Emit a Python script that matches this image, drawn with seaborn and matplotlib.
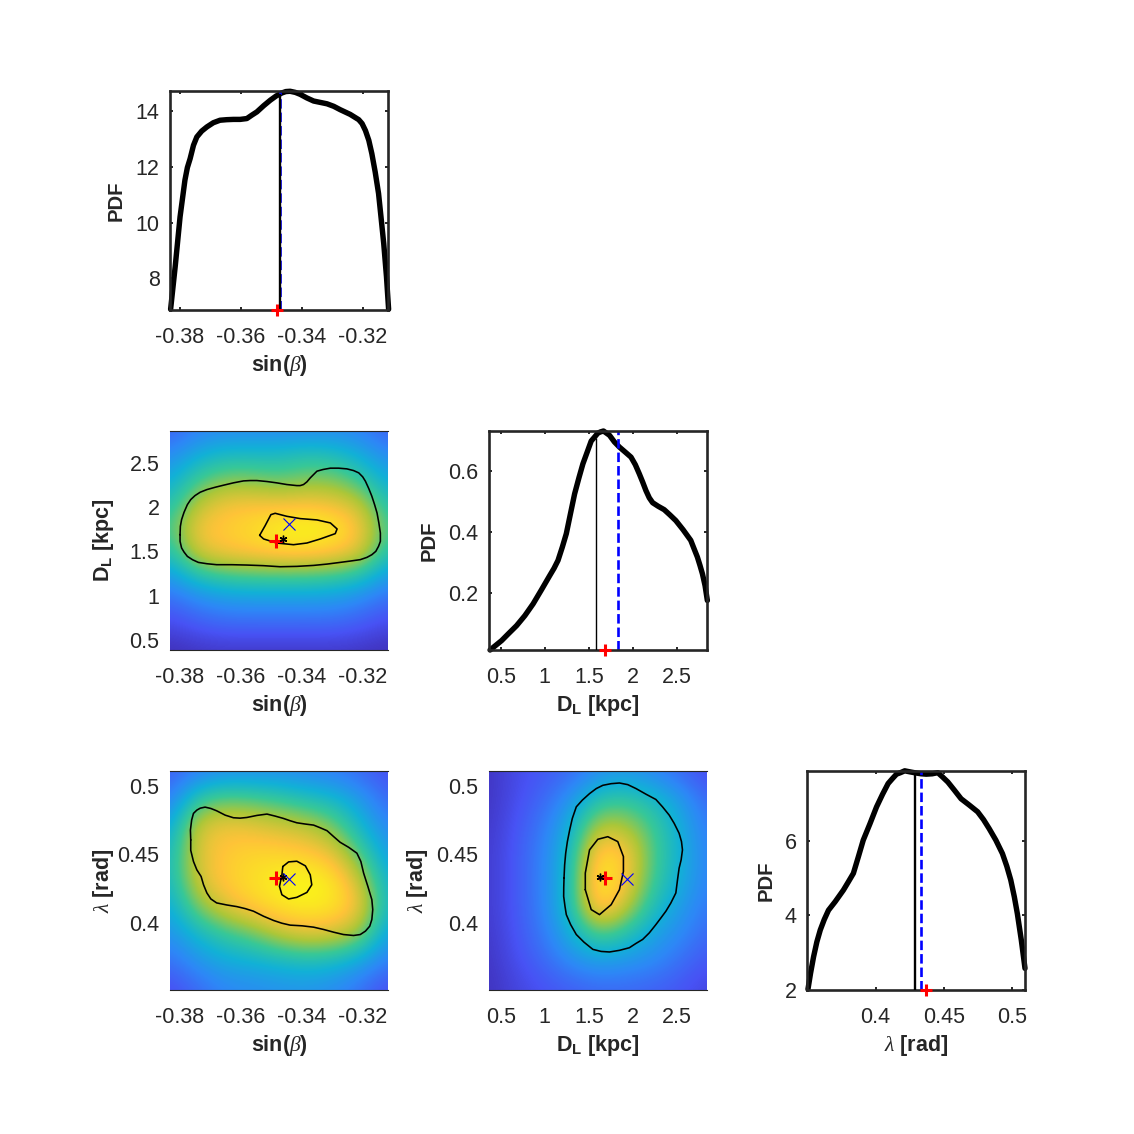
# Corner plot of the posterior: sin(beta), D_L and lambda
import numpy as np
import matplotlib
matplotlib.use("Agg")
import matplotlib.pyplot as plt
from matplotlib.colors import LinearSegmentedColormap
import seaborn as sns

# ---- axis limits and ticks
SIN_LIM = (-0.3833, -0.3118)
DL_XLIM = (0.368, 2.838)
DL_YLIM = (0.385, 2.86)
LAM_YLIM = (0.3505, 0.5112)
LAM_XLIM = (0.3499, 0.5092)
SIN_TICKS = [-0.38, -0.36, -0.34, -0.32]
SIN_LABELS = ["-0.38", "-0.36", "-0.34", "-0.32"]
DL_TICKS = [0.5, 1, 1.5, 2, 2.5]
DL_LABELS = ["0.5", "1", "1.5", "2", "2.5"]
LAM_TICKS = [0.4, 0.45, 0.5]
LAM_LABELS = ["0.4", "0.45", "0.5"]

# ---- 1D marginals
SIN_X = [-.3831, -.3816, -.38, -.3784, -.3776, -.3767, -.3756, -.3745, -.3729, -.3712, -.3691, -.3669, -.3647, -.3625, -.3603,
         -.3581, -.3565, -.3548, -.3526, -.3504, -.3485, -.3466, -.3453, -.3439, -.3422, -.3406, -.3384, -.3362, -.334, -.3318,
         -.3296, -.3275, -.3242, -.3214, -.3203, -.3192, -.3181, -.3171, -.316, -.3149, -.3141, -.3132, -.3123, -.3116]
SIN_PDF = [6.89, 8.42, 10.21, 11.53, 11.98, 12.30, 12.78, 13.08, 13.29, 13.44, 13.59, 13.68, 13.70, 13.71, 13.71,
           13.74, 13.86, 13.98, 14.20, 14.40, 14.55, 14.66, 14.71, 14.72, 14.68, 14.61, 14.48, 14.37, 14.32, 14.27,
           14.18, 14.06, 13.89, 13.70, 13.56, 13.31, 12.96, 12.48, 11.82, 11.05, 10.21, 9.25, 8.06, 6.89]
DL_X = [.380, .511, .586, .680, .774, .868, .962, 1.056, 1.105, 1.150, 1.199, 1.244, 1.289, 1.338, 1.387, 1.432, 1.481, 1.526, 1.564,
        1.601, 1.631, 1.665, 1.699, 1.733, 1.789, 1.846, 1.910, 1.977, 2.026, 2.071, 2.109, 2.146, 2.184, 2.222, 2.286, 2.353, 2.417,
        2.485, 2.567, 2.654, 2.692, 2.729, 2.759, 2.786, 2.816, 2.842]
DL_PDF = [.012, .043, .065, .092, .125, .164, .210, .257, .281, .307, .351, .395, .458, .526, .579, .625, .664, .700, .713,
          .726, .730, .733, .726, .719, .697, .680, .664, .647, .622, .592, .565, .537, .513, .497, .485, .474, .457,
          .438, .408, .373, .345, .318, .290, .263, .224, .175]
LAM_X = [.3506, .3525, .3547, .3571, .3596, .3625, .3656, .3705, .3765, .3801, .3838, .3874, .3910, .3959, .4007, .4051, .4092, .4123,
         .4153, .4182, .4213, .4254, .4298, .4334, .4370, .4414, .4455, .4491, .4528, .4576, .4625, .4685, .4746, .4789, .4830, .4879,
         .4927, .4959, .4988, .5014, .5036, .5065, .5092]
LAM_PDF = [2.02, 2.45, 2.89, 3.29, 3.61, 3.89, 4.14, 4.37, 4.68, 4.90, 5.13, 5.57, 6.02, 6.46, 6.91, 7.25, 7.54, 7.67,
           7.79, 7.83, 7.88, 7.85, 7.82, 7.80, 7.79, 7.80, 7.83, 7.71, 7.58, 7.36, 7.13, 6.96, 6.78, 6.57, 6.33, 6.02,
           5.66, 5.32, 4.95, 4.50, 4.05, 3.34, 2.58]

# ---- reference values: median line, dashed line, true value
SIN_MED, SIN_DASH, SIN_TRUE = -0.3472, -0.3471, -0.3483
DL_MED, DL_DASH, DL_TRUE = 1.579, 1.827, 1.677
LAM_MED, LAM_DASH, LAM_TRUE = 0.4291, 0.4334, 0.4366

# ---- 2D grids, top row first (0 = low, 1 = peak)
SIN_GRID = [-.3833, -.3744, -.3654, -.3565, -.3476, -.3386, -.3297, -.3207, -.3118]
DLX_GRID = [.37, .68, .98, 1.29, 1.6, 1.91, 2.22, 2.53, 2.84]
DLY_GRID = [2.86, 2.585, 2.31, 2.035, 1.76, 1.485, 1.21, .935, .66, .385]
LAM_GRID = [.511, .491, .471, .451, .431, .411, .391, .371, .351]

SIN_DL = [[.18, .27, .30, .30, .30, .30, .30, .27, .18],
          [.30, .42, .48, .48, .48, .52, .50, .42, .30],
          [.40, .58, .66, .66, .62, .66, .66, .56, .40],
          [.50, .74, .84, .85, .84, .85, .83, .76, .50],
          [.58, .85, .88, .92, .98, 1.0, .97, .85, .58],
          [.50, .78, .85, .87, .90, .90, .87, .80, .50],
          [.34, .50, .56, .58, .58, .58, .56, .50, .34],
          [.20, .28, .33, .34, .34, .34, .33, .28, .20],
          [.11, .16, .19, .19, .19, .19, .19, .16, .11],
          [.03, .05, .06, .06, .06, .06, .06, .05, .03]]
SIN_LAM = [[.17, .25, .30, .30, .30, .28, .25, .20, .13],
           [.25, .55, .62, .60, .56, .50, .46, .35, .20],
           [.38, .78, .84, .82, .78, .75, .65, .45, .28],
           [.46, .80, .87, .90, .90, .88, .82, .60, .35],
           [.46, .78, .88, .93, .98, 1.0, .95, .76, .42],
           [.40, .65, .80, .88, .94, .97, .95, .84, .45],
           [.32, .45, .55, .62, .74, .80, .78, .68, .36],
           [.22, .33, .40, .42, .45, .48, .46, .38, .25],
           [.12, .20, .28, .30, .32, .33, .30, .22, .12]]
DL_LAM = [[.05, .12, .16, .20, .30, .33, .28, .20, .12],
          [.05, .13, .20, .33, .52, .55, .48, .36, .20],
          [.06, .15, .25, .43, .74, .72, .58, .42, .25],
          [.07, .16, .28, .48, .93, .88, .60, .44, .27],
          [.07, .16, .28, .50, 1.0, .87, .58, .42, .27],
          [.07, .16, .28, .50, .95, .76, .50, .36, .24],
          [.06, .15, .25, .42, .60, .52, .38, .30, .20],
          [.05, .13, .20, .30, .36, .33, .30, .22, .15],
          [.04, .10, .14, .17, .20, .20, .18, .15, .10]]

# ---- credible contours
SD_OUT_X = [-.38, -.3799, -.3795, -.3787, -.3776, -.3765, -.3751, -.3734, -.3712, -.3685, -.3658, -.3625, -.3592, -.357, -.3548, -.3515,
            -.3483, -.345, -.3417, -.3406, -.3395, -.3384, -.3373, -.3362, -.3351, -.3331, -.3307, -.328, -.3253, -.3231, -.3214, -.3201,
            -.3192, -.3181, -.3171, -.3162, -.3154, -.3148, -.3143, -.3143, -.3149, -.3158, -.3171, -.3187, -.3209, -.3242, -.3275, -.3318,
            -.3362, -.3417, -.3472, -.3526, -.3581, -.363, -.368, -.3712, -.374, -.3759, -.3776, -.3787, -.3795, -.38, -.38]
SD_OUT_Y = [1.689, 1.783, 1.858, 1.941, 2.028, 2.085, 2.130, 2.168, 2.198, 2.224, 2.247, 2.274, 2.296, 2.300, 2.300, 2.289,
            2.274, 2.255, 2.243, 2.243, 2.255, 2.285, 2.330, 2.368, 2.406, 2.425, 2.440, 2.440, 2.432, 2.413, 2.387, 2.342,
            2.292, 2.209, 2.123, 2.028, 1.934, 1.821, 1.707, 1.613, 1.557, 1.500, 1.462, 1.432, 1.406, 1.390, 1.375, 1.356,
            1.341, 1.330, 1.326, 1.338, 1.345, 1.349, 1.349, 1.360, 1.375, 1.405, 1.443, 1.492, 1.538, 1.613, 1.689]
SD_IN_X = [-.3539, -.3521, -.3502, -.3488, -.345, -.3406, -.3351, -.3307, -.3285, -.3291, -.334, -.3384, -.3428, -.3483, -.3526, -.3539]
SD_IN_Y = [1.681, 1.790, 1.915, 1.930, 1.896, 1.870, 1.855, 1.821, 1.753, 1.700, 1.640, 1.594, 1.575, 1.594, 1.640, 1.681]

SL_OUT_X = [-.3765, -.3766, -.3762, -.3756, -.3745, -.3734, -.3718, -.3699, -.368, -.3652, -.3625, -.3603, -.3581, -.3548, -.3515, -.3488,
            -.3461, -.3439, -.3417, -.339, -.3362, -.3341, -.3318, -.3296, -.3275, -.3247, -.322, -.3207, -.3198, -.3184, -.3171, -.3168,
            -.3171, -.3178, -.3192, -.3209, -.3231, -.3264, -.3296, -.3329, -.3362, -.34, -.3439, -.3466, -.3493, -.3526, -.3559, -.3586,
            -.3614, -.3647, -.368, -.3699, -.3712, -.3723, -.3731, -.3745, -.3756, -.3765, -.3765]
SL_OUT_Y = [.4606, .4679, .4752, .4801, .4825, .4839, .4847, .4837, .4820, .4788, .4769, .4766, .4771, .4786, .4796, .4781,
            .4764, .4747, .4732, .4723, .4715, .4696, .4674, .4630, .4589, .4552, .4509, .4448, .4363, .4265, .4168, .4095,
            .4022, .3973, .3937, .3912, .3905, .3912, .3929, .3949, .3966, .3976, .3981, .3995, .4015, .4046, .4083, .4102,
            .4117, .4129, .4144, .4173, .4217, .4277, .4338, .4387, .4448, .4530, .4606]
SL_IN_X = [-.3463, -.3444, -.3417, -.3389, -.3373, -.3368, -.3384, -.3417, -.3444, -.3466, -.3474, -.3466, -.3463]
SL_IN_Y = [.4411, .4445, .4450, .4416, .4350, .4277, .4221, .4185, .4173, .4204, .4265, .4350, .4411]

DL_OUT_X = [1.218, 1.225, 1.237, 1.256, 1.282, 1.312, 1.357, 1.425, 1.507, 1.583, 1.658, 1.752, 1.846, 1.940, 2.034, 2.146, 2.259, 2.334,
            2.410, 2.466, 2.522, 2.549, 2.560, 2.545, 2.522, 2.504, 2.485, 2.428, 2.372, 2.316, 2.259, 2.184, 2.109, 2.034, 1.958, 1.846,
            1.733, 1.639, 1.545, 1.444, 1.357, 1.293, 1.244, 1.229, 1.214, 1.215, 1.218]
DL_OUT_Y = [.4326, .4423, .4509, .4594, .4679, .4764, .4849, .4898, .4946, .4983, .5007, .5019, .5024, .5012, .4983, .4942, .4903, .4849,
            .4788, .4728, .4655, .4594, .4533, .4460, .4399, .4314, .4217, .4143, .4083, .4034, .3985, .3924, .3876, .3847, .3815, .3796,
            .3784, .3788, .3803, .3856, .3912, .3985, .4058, .4119, .4192, .4260, .4326]
DL_IN_X = [1.459, 1.459, 1.507, 1.601, 1.714, 1.827, 1.891, 1.891, 1.846, 1.752, 1.620, 1.526, 1.459]
DL_IN_Y = [.4241, .4363, .4533, .4611, .4630, .4594, .4484, .4375, .4241, .4131, .4058, .4095, .4241]

# ---- point markers: true value (+), peak (*), mean (x)
SD_POINTS = [(-.3484, 1.613), (-.3462, 1.643), (-.3442, 1.813)]
SL_POINTS = [(-.3484, .4324), (-.3463, .4333), (-.3443, .4321)]
DL_POINTS = [(1.684, .4326), (1.631, .4333), (1.932, .4323)]

SIN_NAME = r"sin($\beta$)"
DL_NAME = r"D$_{\mathbf{L}}$ [kpc]"
LAM_NAME = r"$\lambda$ [rad]"

sns.set_theme(style="white")
plt.rcParams.update({
    "font.family": ["Liberation Sans", "DejaVu Sans"],
    "mathtext.fontset": "custom",
    "mathtext.rm": "Liberation Sans",
    "mathtext.bf": "Liberation Sans:bold",
    "mathtext.it": "Liberation Serif:italic",
    "text.color": "#262626",
    "axes.labelcolor": "#262626",
    "xtick.color": "#262626",
    "ytick.color": "#262626",
})

PARULA = LinearSegmentedColormap.from_list("parula", [
    (0.2422, 0.1504, 0.6603), (0.2810, 0.3228, 0.9579), (0.1786, 0.5289, 0.9682),
    (0.0689, 0.6948, 0.8394), (0.2161, 0.7843, 0.5923), (0.6720, 0.7793, 0.2227),
    (0.9970, 0.7659, 0.2199), (0.9769, 0.9839, 0.0805)])

FIG_PX = 1134
COLS = [170, 489, 807]
ROWS = [310, 650, 990]
AX_W, AX_H = 218, 219
TICK_SIZE = 15.5
LABEL_SIZE = 15.5
DARK = "#262626"

fig = plt.figure(figsize=(11.34, 11.34), dpi=100)


def new_axes(col, row):
    return fig.add_axes([COLS[col] / FIG_PX, 1 - ROWS[row] / FIG_PX, AX_W / FIG_PX, AX_H / FIG_PX])


def dress(ax, col, xticks, xlabels, yticks, ylabels, xname, yname, ylabel_px, inner_ticks):
    ax.set_xticks(xticks, xlabels)
    ax.set_yticks(yticks, ylabels)
    ax.tick_params(axis="x", pad=12)
    ax.tick_params(axis="y", pad=7.5)
    ax.tick_params(axis="both", labelsize=TICK_SIZE, direction="in", top=inner_ticks, right=inner_ticks,
                   left=inner_ticks, bottom=inner_ticks, length=2.2, width=1.4)
    ax.set_xlabel(xname, fontsize=LABEL_SIZE, fontweight="bold", labelpad=4)
    ax.set_ylabel(yname, fontsize=14.6 if yname == "PDF" else LABEL_SIZE, fontweight="bold", va="center")
    ax.yaxis.set_label_coords((ylabel_px - COLS[col]) / AX_W, 0.5)


def marginal(col, row, xs, pdf, xlim, ylim, med, med_top, med_lw, dash, true, ticks, labels, yticks, ylabels, name, ylabel_px):
    ax = new_axes(col, row)
    sns.lineplot(x=xs, y=pdf, sort=False, estimator=None, color="black", lw=3.9, clip_on=False,
                 solid_joinstyle="round", ax=ax, legend=False)
    ax.vlines(med, ylim[0], med_top, color="black", lw=med_lw, zorder=3)
    ax.plot([dash, dash], ylim, color="#0000ff", lw=1.9, ls=(0, (3.6, 1.5)), zorder=2.5)
    ax.plot([true], [ylim[0]], marker="+", ms=8, mew=2.2, color="#ff0000", clip_on=False, zorder=6)
    ax.set_xlim(xlim)
    ax.set_ylim(ylim)
    for sp in ax.spines.values():
        sp.set_linewidth(1.9)
        sp.set_color(DARK)
    dress(ax, col, ticks, labels, yticks, ylabels, name, "PDF", ylabel_px, True)
    return ax


def joint(col, row, grid, gx, gy, xlim, ylim, outer, inner, points, ticks, labels, yticks, ylabels, xname, yname, ylabel_px):
    ax = new_axes(col, row)
    dx = (gx[-1] - gx[0]) / (len(gx) - 1)
    dy = (gy[0] - gy[-1]) / (len(gy) - 1)
    ax.imshow(np.array(grid), cmap=PARULA, vmin=0, vmax=1, aspect="auto", interpolation="bicubic", origin="upper",
              extent=(gx[0] - dx / 2, gx[-1] + dx / 2, gy[-1] - dy / 2, gy[0] + dy / 2))
    for cx, cy in (outer, inner):
        sns.lineplot(x=cx, y=cy, sort=False, estimator=None, color="black", lw=1.15,
                     solid_joinstyle="round", ax=ax, legend=False)
    (tx, ty), (px, py), (mx, my) = points
    ax.plot([tx], [ty], marker="+", ms=9.5, mew=2.2, color="#ff0000", zorder=5)
    ax.plot([px], [py], marker=(6, 2, 0), ms=5.5, mew=1.0, color="black", zorder=6)
    ax.plot([mx], [my], marker="x", ms=8, mew=0.8, color="#0000ff", zorder=6)
    ax.set_xlim(xlim)
    ax.set_ylim(ylim)
    ax.spines[["left", "right"]].set_visible(False)
    ax.spines[["top", "bottom"]].set_linewidth(0.8)
    ax.spines[["top", "bottom"]].set_color(DARK)
    dress(ax, col, ticks, labels, yticks, ylabels, xname, yname, ylabel_px, False)
    ax.tick_params(axis="both", length=0)
    return ax


marginal(0, 0, SIN_X, SIN_PDF, SIN_LIM, (6.864, 14.73), SIN_MED, 14.62, 1.7, SIN_DASH, SIN_TRUE,
         SIN_TICKS, SIN_LABELS, [8, 10, 12, 14], ["8", "10", "12", "14"], SIN_NAME, 116)
marginal(1, 1, DL_X, DL_PDF, DL_XLIM, (0.012, 0.733), DL_MED, 0.71, 1.0, DL_DASH, DL_TRUE,
         DL_TICKS, DL_LABELS, [0.2, 0.4, 0.6], ["0.2", "0.4", "0.6"], DL_NAME, 429)
marginal(2, 2, LAM_X, LAM_PDF, LAM_XLIM, (2, 7.875), LAM_MED, 7.82, 1.7, LAM_DASH, LAM_TRUE,
         LAM_TICKS, LAM_LABELS, [2, 4, 6], ["2", "4", "6"], LAM_NAME, 766)

joint(0, 1, SIN_DL, SIN_GRID, DLY_GRID, SIN_LIM, DL_YLIM, (SD_OUT_X, SD_OUT_Y), (SD_IN_X, SD_IN_Y), SD_POINTS,
      SIN_TICKS, SIN_LABELS, DL_TICKS, DL_LABELS, SIN_NAME, DL_NAME, 103)
joint(0, 2, SIN_LAM, SIN_GRID, LAM_GRID, SIN_LIM, LAM_YLIM, (SL_OUT_X, SL_OUT_Y), (SL_IN_X, SL_IN_Y), SL_POINTS,
      SIN_TICKS, SIN_LABELS, LAM_TICKS, LAM_LABELS, SIN_NAME, LAM_NAME, 103)
joint(1, 2, DL_LAM, DLX_GRID, LAM_GRID, DL_XLIM, LAM_YLIM, (DL_OUT_X, DL_OUT_Y), (DL_IN_X, DL_IN_Y), DL_POINTS,
      DL_TICKS, DL_LABELS, LAM_TICKS, LAM_LABELS, DL_NAME, LAM_NAME, 418)

fig.savefig("out.png", dpi=100)
